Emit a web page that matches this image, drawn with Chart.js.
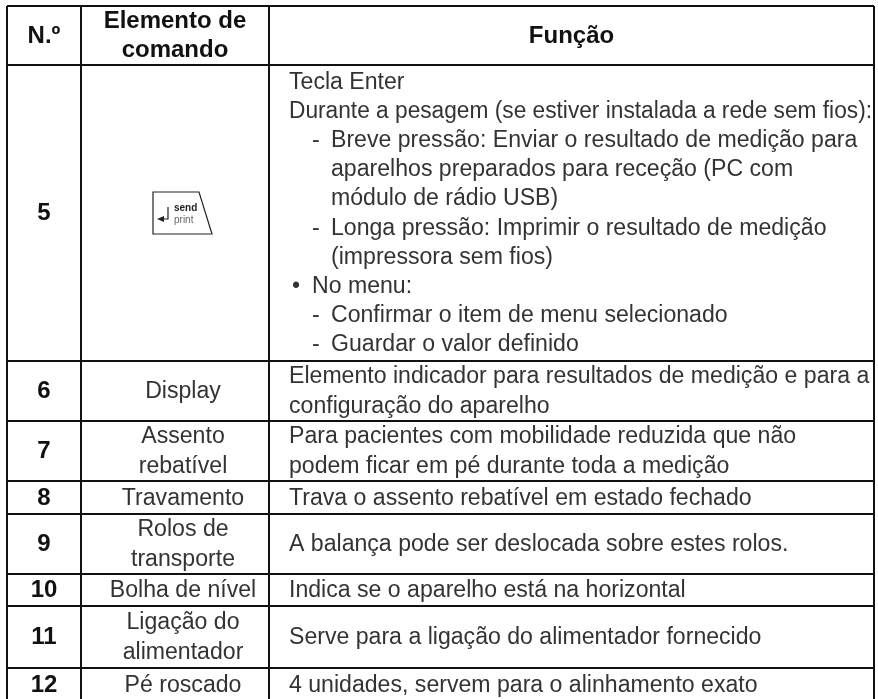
<!DOCTYPE html>
<html lang="pt">

<head>
    <meta charset="UTF-8">
    <title>Elementos de comando</title>
    <script src="https://cdn.jsdelivr.net/npm/chart.js"></script>
    <style>
        html, body { margin: 0; padding: 0; background: #fff; }
        #wrap { position: relative; width: 878px; height: 699px; }
    </style>
</head>

<body>
    <div id="wrap"><canvas id="table"></canvas></div>

    <script>
        // Table content
        const headers = [["N.º"], ["Elemento de", "comando"], ["Função"]];
        const numbers = ["5", "6", "7", "8", "9", "10", "11", "12"];
        const elements = [
            [],
            ["Display"],
            ["Assento", "rebatível"],
            ["Travamento"],
            ["Rolos de", "transporte"],
            ["Bolha de nível"],
            ["Ligação do", "alimentador"],
            ["Pé roscado"]
        ];
        const functions = [
            ["Tecla Enter",
             "Durante a pesagem (se estiver instalada a rede sem fios):",
             "- Breve pressão: Enviar o resultado de medição para",
             "  aparelhos preparados para receção (PC com",
             "  módulo de rádio USB)",
             "- Longa pressão: Imprimir o resultado de medição",
             "  (impressora sem fios)",
             "• No menu:",
             "- Confirmar o item de menu selecionado",
             "- Guardar o valor definido"],
            ["Elemento indicador para resultados de medição e para a", "configuração do aparelho"],
            ["Para pacientes com mobilidade reduzida que não", "podem ficar em pé durante toda a medição"],
            ["Trava o assento rebatível em estado fechado"],
            ["A balança pode ser deslocada sobre estes rolos."],
            ["Indica se o aparelho está na horizontal"],
            ["Serve para a ligação do alimentador fornecido"],
            ["4 unidades, servem para o alinhamento exato"]
        ];

        // Where the rules sit, used as the axis ticks. The last row runs off the bottom of the page.
        const columnEdges = [7, 81, 269, 874];
        const rowEdges = [6, 65, 361, 421, 481, 514, 574, 606, 668, 701];
        const pageBottom = 699;

        const lineStep = 29.2;
        const bodyFont = "23.1px 'Liberation Sans', sans-serif";
        const boldFont = "bold 24px 'Liberation Sans', sans-serif";

        const cellText = {
            id: "cellText",
            afterDraw(chart) {
                const c = chart.ctx;
                const x = chart.scales.x;
                const y = chart.scales.y;

                function lineY(row, i, count) {
                    const mid = (y.getPixelForValue(rowEdges[row]) + y.getPixelForValue(rowEdges[row + 1])) / 2;
                    return mid + (i - (count - 1) / 2) * lineStep + 7;
                }

                function centered(lines, col, row, font, color, shift) {
                    const px = (x.getPixelForValue(columnEdges[col]) + x.getPixelForValue(columnEdges[col + 1])) / 2 + shift;
                    c.font = font;
                    c.fillStyle = color;
                    c.textAlign = "center";
                    lines.forEach((line, i) => c.fillText(line, px, lineY(row, i, lines.length)));
                }

                // function column: dash and bullet lines hang from their own indents
                function leftAligned(lines, col, row) {
                    const left = x.getPixelForValue(columnEdges[col]);
                    c.font = bodyFont;
                    c.fillStyle = "#333";
                    c.textAlign = "left";
                    lines.forEach((line, i) => {
                        const py = lineY(row, i, lines.length);
                        if (line.startsWith("- ")) {
                            c.fillText("-", left + 43, py);
                            c.fillText(line.slice(2), left + 62, py);
                        } else if (line.startsWith("  ")) {
                            c.fillText(line.slice(2), left + 62, py);
                        } else if (line.startsWith("• ")) {
                            c.fillText("•", left + 23, py);
                            c.fillText(line.slice(2), left + 43, py);
                        } else {
                            // keep the long line inside the right border
                            c.fillText(line, left + 20, py, 583);
                        }
                    });
                }

                c.save();
                c.textBaseline = "alphabetic";
                headers.forEach((h, i) => centered(h, i, 0, boldFont, "#111", 0));
                numbers.forEach((n, i) => {
                    centered([n], 0, i + 1, boldFont, "#111", 0);
                    centered(elements[i], 1, i + 1, bodyFont, "#333", 8);
                    leftAligned(functions[i], 2, i + 1);
                });

                // send / print key in row 5
                const kx = x.getPixelForValue(153);
                const ky = y.getPixelForValue(192);
                c.strokeStyle = "#222";
                c.lineWidth = 1.2;
                c.beginPath();
                c.moveTo(kx, ky);
                c.lineTo(kx + 46, ky);
                c.lineTo(kx + 59, ky + 42);
                c.lineTo(kx, ky + 42);
                c.closePath();
                c.stroke();
                c.beginPath();
                c.moveTo(kx + 15, ky + 15);
                c.lineTo(kx + 15, ky + 27);
                c.lineTo(kx + 8, ky + 27);
                c.stroke();
                c.beginPath();
                c.moveTo(kx + 4, ky + 27);
                c.lineTo(kx + 11, ky + 24);
                c.lineTo(kx + 11, ky + 30);
                c.closePath();
                c.fillStyle = "#222";
                c.fill();
                c.textAlign = "left";
                c.font = "bold 10px 'Liberation Sans', sans-serif";
                c.fillText("send", kx + 21, ky + 19);
                c.font = "10px 'Liberation Sans', sans-serif";
                c.fillStyle = "#666";
                c.fillText("print", kx + 21, ky + 31);
                c.restore();
            }
        };

        function ruleAxis(edges, max) {
            return {
                type: "linear",
                min: edges[0],
                max: max,
                border: { display: false },
                ticks: { display: false },
                grid: { color: "#111", lineWidth: 2, drawTicks: false },
                afterBuildTicks: axis => {
                    axis.ticks = edges.filter(v => v <= max).map(v => ({ value: v }));
                }
            };
        }

        const xAxis = ruleAxis(columnEdges, columnEdges[columnEdges.length - 1]);
        const yAxis = ruleAxis(rowEdges, pageBottom);
        yAxis.reverse = true;

        new Chart(document.getElementById("table"), {
            type: "scatter",
            data: { datasets: [] },
            options: {
                responsive: true,
                maintainAspectRatio: false,
                animation: false,
                layout: { padding: { left: 7, right: 4, top: 6, bottom: 0 } },
                plugins: { legend: { display: false }, tooltip: { enabled: false } },
                scales: { x: xAxis, y: yAxis }
            },
            plugins: [cellText]
        });
    </script>

</body>

</html>
